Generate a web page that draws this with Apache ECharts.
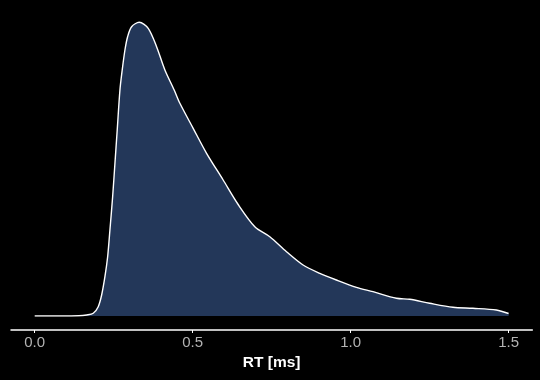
<!DOCTYPE html>
<html>
<head>
<meta charset="utf-8">
<script src="https://cdn.jsdelivr.net/npm/echarts@6/dist/echarts.min.js"></script>
<style>
html,body{margin:0;padding:0;background:#000;}
#chart{width:540px;height:380px;}
</style>
</head>
<body>
<div id="chart"></div>
<script>
// RT values (ms) along the density curve
var rtValues = [0.0, 0.08, 0.14, 0.1645, 0.1853, 0.2011, 0.2119, 0.2223, 0.2309, 0.2381, 0.2467, 0.2540, 0.2612, 0.2698, 0.2770, 0.2856, 0.2941, 0.3068, 0.3308, 0.3593, 0.3858, 0.4121, 0.4415, 0.4595, 0.5016, 0.544, 0.5965, 0.644, 0.6967, 0.7442, 0.797, 0.8495, 0.9023, 0.955, 1.0183, 1.0708, 1.1449, 1.1869, 1.25, 1.3238, 1.3871, 1.4611, 1.5];
// estimated density at each RT
var densityValues = [0.0, 0.0, 0.002, 0.01, 0.027, 0.093, 0.21, 0.393, 0.593, 0.86, 1.193, 1.527, 1.86, 2.26, 2.46, 2.66, 2.793, 2.893, 2.937, 2.877, 2.693, 2.46, 2.26, 2.127, 1.877, 1.627, 1.36, 1.115, 0.893, 0.793, 0.643, 0.51, 0.427, 0.36, 0.287, 0.243, 0.177, 0.167, 0.127, 0.087, 0.077, 0.06, 0.025];
var tickValues = [0, 0.5, 1.0, 1.5];
var xTitle = 'RT [ms]';

var pairs = rtValues.map(function (x, i) { return [x, densityValues[i]]; });

var chart = echarts.init(document.getElementById('chart'), null, {renderer: 'canvas'});
chart.setOption({
  backgroundColor: '#000000',
  animation: false,
  grid: {left: 11, right: 7.7, top: 16, bottom: 64, containLabel: false},
  xAxis: {
    type: 'value',
    min: -0.075,
    max: 1.575,
    offset: 14,
    axisLine: {show: true, onZero: false, lineStyle: {color: '#ffffff', width: 1.5}},
    axisTick: {show: true, customValues: tickValues, length: 3, lineStyle: {color: '#ffffff', width: 1}},
    axisLabel: {
      customValues: tickValues,
      formatter: function (v) { return v.toFixed(1); },
      color: '#b3b3b3',
      fontFamily: 'Liberation Sans',
      fontSize: 15,
      margin: 5
    },
    splitLine: {show: false},
    name: xTitle,
    nameLocation: 'middle',
    nameGap: 24,
    nameTextStyle: {color: '#ffffff', fontFamily: 'Liberation Sans', fontWeight: 'bold', fontSize: 15.5}
  },
  yAxis: {
    type: 'value',
    min: 0,
    max: 3,
    show: false
  },
  series: [{
    type: 'line',
    data: pairs,
    smooth: 0.3,
    showSymbol: false,
    symbol: 'none',
    lineStyle: {color: '#ffffff', width: 1.4},
    areaStyle: {color: '#233759', opacity: 1}
  }]
});
</script>
</body>
</html>
